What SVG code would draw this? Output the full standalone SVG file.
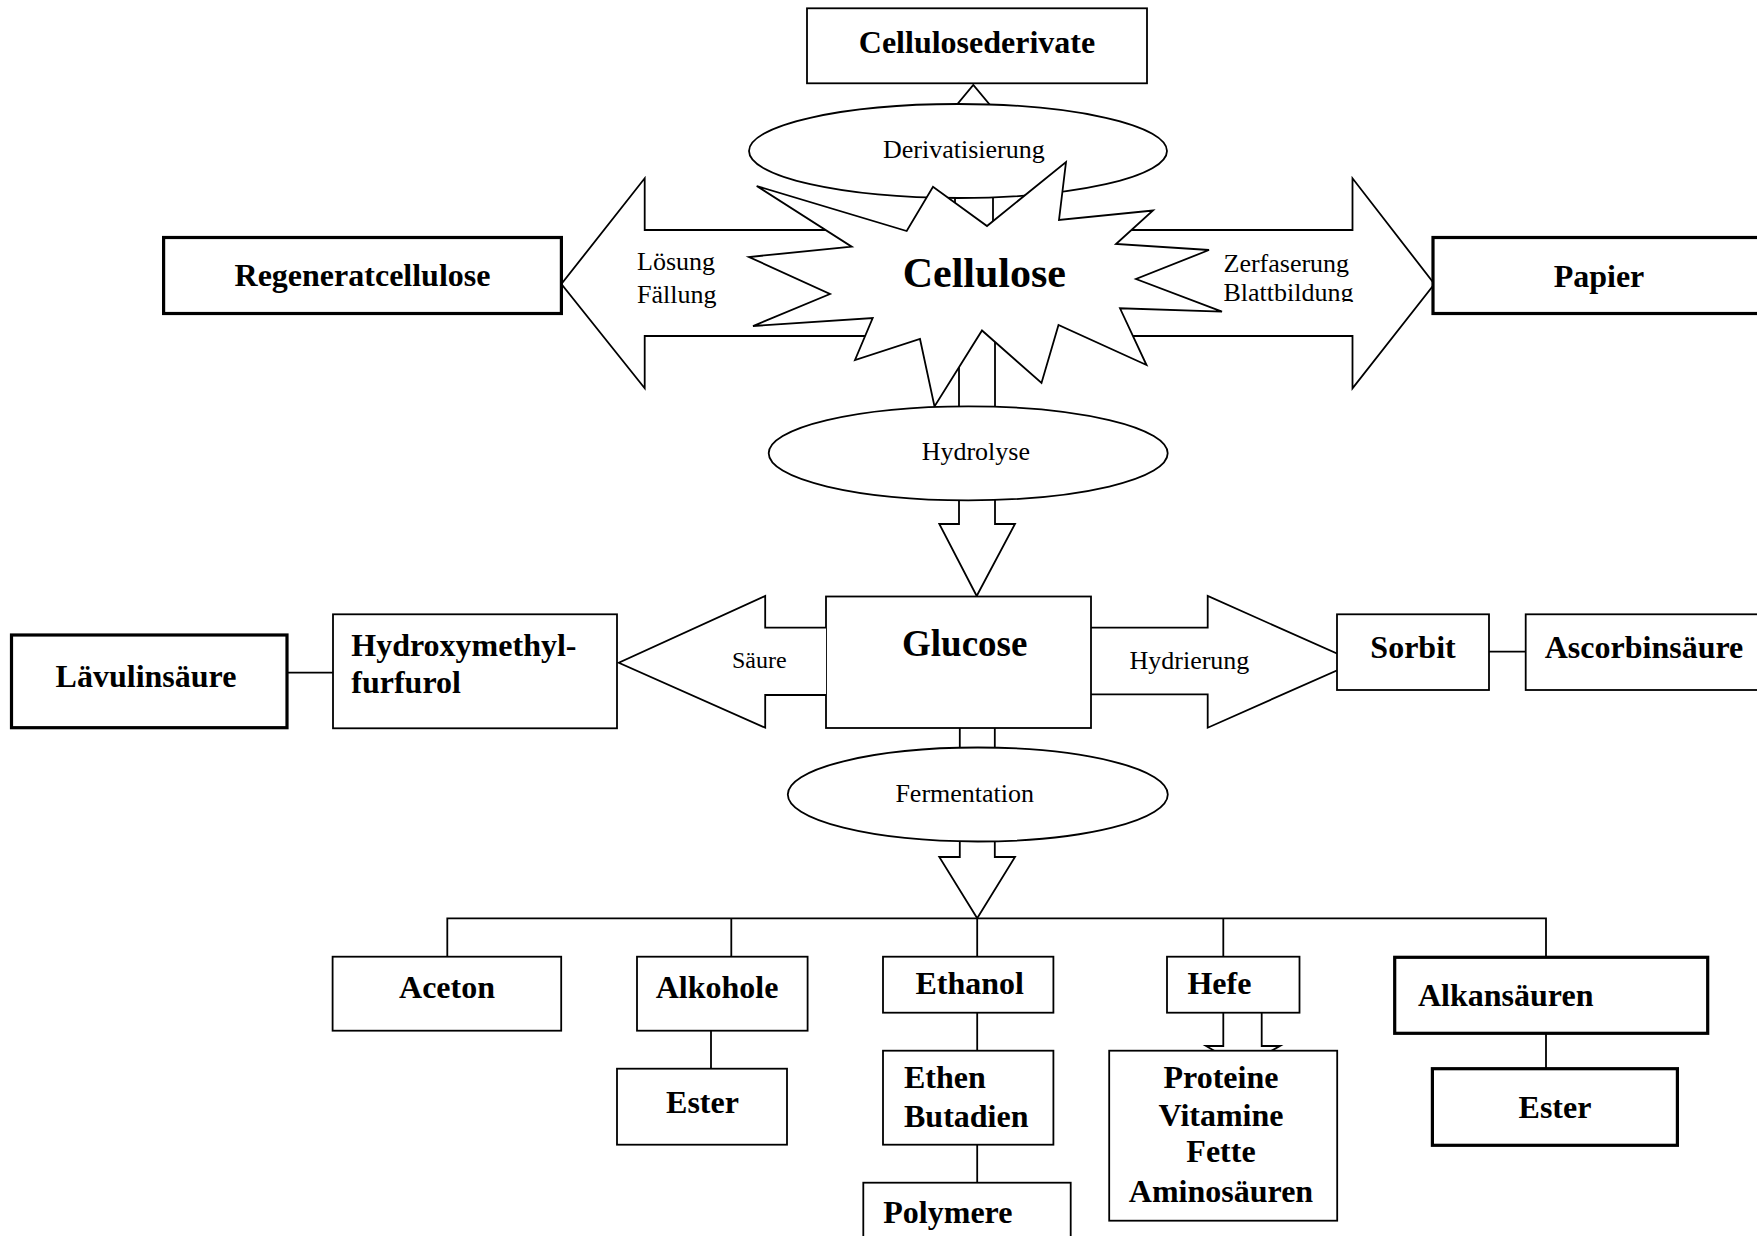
<svg xmlns="http://www.w3.org/2000/svg" width="1757" height="1236" viewBox="0 0 1757 1236">
<defs>
<style>
.b{fill:#fff;stroke:#000;stroke-width:1.8}
.k{fill:#fff;stroke:#000;stroke-width:3.2}
.a{fill:#fff;stroke:#000;stroke-width:1.8;stroke-linejoin:miter}
.l{fill:none;stroke:#000;stroke-width:1.8}
text{font-family:"Liberation Serif","Times New Roman",serif;fill:#000}
.t{font-weight:bold;font-size:32px}
.n{font-size:26px}
.c{text-anchor:middle}
</style>
<clipPath id="clipB"><rect x="1200" y="240" width="200" height="62"/></clipPath>
</defs>
<rect x="0" y="0" width="1757" height="1236" fill="#fff"/>

<g id="connectors">
<path class="a" d="M955,250 L955,125 L940,125 L973.3,85 L1006.7,125 L993,125 L993,250 Z"/>
<path class="a" d="M959,300 L959,524 L939.3,524 L976.7,596 L1015,524 L995,524 L995,300 Z"/>
<path class="a" d="M890,230 L644.7,230 L644.7,178.3 L561.4,284 L644.7,388.3 L644.7,336 L890,336 Z"/>
<path class="a" d="M1100,230 L1352.5,230 L1352.5,178.3 L1434.4,284 L1352.5,388.3 L1352.5,336 L1130,336 L1100,310 Z"/>
<path class="a" d="M1091,627.7 L1207.7,627.7 L1207.7,596 L1356,662 L1207.7,727.7 L1207.7,694.3 L1091,694.3"/>
<path class="a" d="M959.8,728 L959.8,857 L939.3,857 L977.2,918.3 L1015,857 L994.8,857 L994.8,728"/>
<path class="a" d="M1223.3,1012.7 L1223.3,1046 L1206,1046 L1242.5,1067 L1280,1046 L1261.7,1046 L1261.7,1012.7"/>
<line class="l" x1="278.4" y1="672.7" x2="333" y2="672.7"/>
<line class="l" x1="1489" y1="651.7" x2="1525.7" y2="651.7"/>
<path class="l" d="M447.3,956.7 L447.3,918.3 L1546,918.3 L1546,956.7 M731.3,918.3 L731.3,956.7 M977.2,918.3 L977.2,956.7 M1223.3,918.3 L1223.3,956.7"/>
<line class="l" x1="711" y1="1030.7" x2="711" y2="1068.7"/>
<line class="l" x1="977.2" y1="1012.7" x2="977.2" y2="1050.7"/>
<line class="l" x1="977.2" y1="1144.7" x2="977.2" y2="1182.7"/>
<line class="l" x1="1546" y1="1031" x2="1546" y2="1068.7"/>
</g>

<g id="derivatisierung">
<ellipse class="b" cx="958" cy="151" rx="209" ry="47"/>
<text class="n" x="883" y="158">Derivatisierung</text>
</g>

<g id="cellulose">
<polygon class="b" points="756.7,186 906.7,231 933,186.7 987,226 1066,162 1059,220 1153,210.5 1116,244 1209,250 1136,279 1222,311.7 1120,308.3 1146.5,365 1058.5,325 1041.5,383 982,330.5 934.5,406.5 920,339 855,360 872.7,318 753,326 830,294 749,257 851.7,246.7"/>
<text x="902.7" y="286.7" style="font-weight:bold;font-size:42px">Cellulose</text>
</g>

<g id="hydrolyse">
<ellipse class="b" cx="968.2" cy="453.3" rx="199.5" ry="47"/>
<text class="n" x="921.7" y="460">Hydrolyse</text>
</g>

<g id="fermentation">
<ellipse class="b" cx="977.8" cy="794.5" rx="190" ry="47"/>
<text class="n" x="895.4" y="801.7">Fermentation</text>
</g>

<g id="labels">
<text class="n" x="637" y="270">Lösung</text>
<text class="n" x="637" y="303">Fällung</text>
<text class="n" x="1223.5" y="271.5">Zerfaserung</text>
<text class="n" x="1223.5" y="300.5" clip-path="url(#clipB)">Blattbildung</text>
<text class="n" x="1129.5" y="669">Hydrierung</text>
</g>

<g id="cellulosederivate">
<rect class="b" x="807" y="8.3" width="340" height="75"/>
<text class="t c" x="977" y="53">Cellulosederivate</text>
</g>

<g id="regeneratcellulose">
<rect class="k" x="163.6" y="237.5" width="397.8" height="76"/>
<text class="t c" x="362.5" y="286">Regeneratcellulose</text>
</g>

<g id="papier">
<rect class="k" x="1433" y="237.5" width="340" height="76"/>
<text class="t c" x="1599" y="287">Papier</text>
</g>

<g id="glucose">
<rect class="b" x="826" y="596.5" width="265" height="131.5"/>
<text x="902" y="656" style="font-weight:bold;font-size:37px">Glucose</text>
</g>

<g id="saeure-arrow">
<path class="a" d="M826,627.7 L765.2,627.7 L765.2,596 L618.8,662.7 L765.2,727.7 L765.2,695 L826,695"/>
<text x="732" y="668" style="font-size:24px">Säure</text>
</g>

<g id="hydroxymethylfurfurol">
<rect class="b" x="333" y="614.3" width="284" height="114"/>
<text class="t" x="351.3" y="656">Hydroxymethyl-</text>
<text class="t" x="351.3" y="693.3">furfurol</text>
</g>

<g id="laevulinsaeure">
<rect class="k" x="11.5" y="635" width="275.5" height="92.7"/>
<text class="t c" x="146" y="686.7">Lävulinsäure</text>
</g>

<g id="sorbit">
<rect class="b" x="1337" y="614.3" width="152" height="75.7"/>
<text class="t c" x="1413" y="658.3">Sorbit</text>
</g>

<g id="ascorbinsaeure">
<rect class="b" x="1525.7" y="614.3" width="250" height="75.7"/>
<text class="t c" x="1644" y="658.3">Ascorbinsäure</text>
</g>

<g id="aceton">
<rect class="b" x="332.6" y="956.7" width="228.6" height="74"/>
<text class="t c" x="447" y="998.3">Aceton</text>
</g>

<g id="alkohole">
<rect class="b" x="637" y="956.7" width="170.6" height="74"/>
<text class="t c" x="717" y="998.3">Alkohole</text>
</g>

<g id="ester1">
<rect class="b" x="617" y="1068.7" width="170" height="76"/>
<text class="t c" x="702.5" y="1112.7">Ester</text>
</g>

<g id="ethanol">
<rect class="b" x="883" y="956.7" width="170.4" height="56"/>
<text class="t" x="915.5" y="994">Ethanol</text>
</g>

<g id="ethen-butadien">
<rect class="b" x="883" y="1050.7" width="170.4" height="94"/>
<text class="t" x="904" y="1088.3">Ethen</text>
<text class="t" x="904" y="1127">Butadien</text>
</g>

<g id="polymere">
<rect class="b" x="863.3" y="1182.7" width="207.4" height="80"/>
<text class="t" x="883.3" y="1223">Polymere</text>
</g>

<g id="hefe">
<rect class="b" x="1167" y="956.7" width="132.5" height="56"/>
<text class="t" x="1187.4" y="994">Hefe</text>
</g>

<g id="proteine">
<rect class="b" x="1109.2" y="1050.7" width="228" height="170"/>
<text class="t c" x="1221" y="1088.3">Proteine</text>
<text class="t c" x="1221" y="1126">Vitamine</text>
<text class="t c" x="1221" y="1161.7">Fette</text>
<text class="t c" x="1221" y="1201.7">Aminosäuren</text>
</g>

<g id="alkansaeuren">
<rect class="k" x="1394.7" y="957.3" width="313" height="76"/>
<text class="t" x="1418" y="1006">Alkansäuren</text>
</g>

<g id="ester2">
<rect class="k" x="1432.4" y="1068.7" width="245" height="76.6"/>
<text class="t c" x="1555" y="1118.3">Ester</text>
</g>
</svg>
